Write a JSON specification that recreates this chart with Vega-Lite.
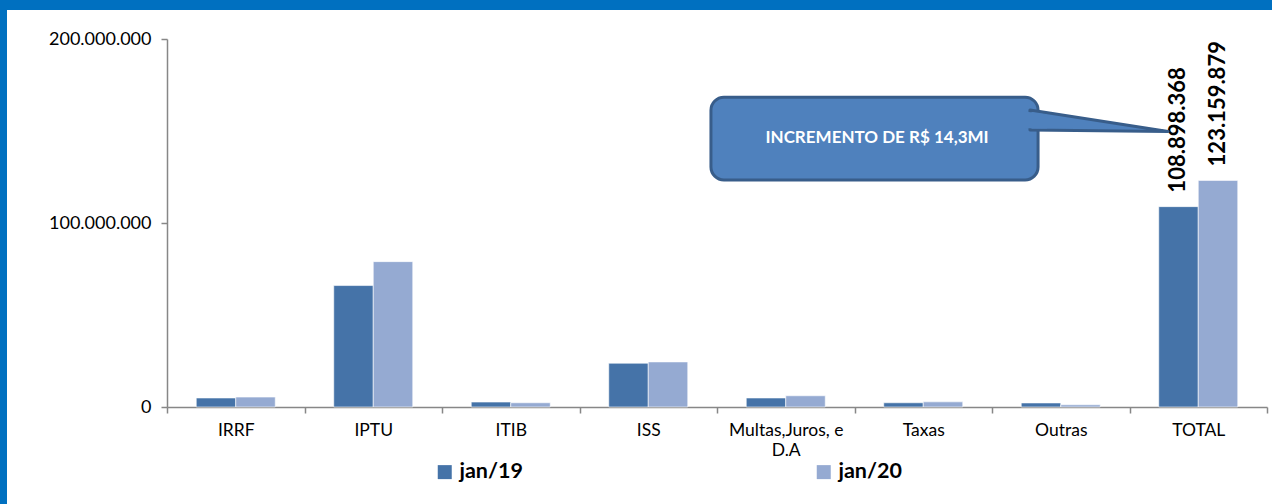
{
  "$schema": "https://vega.github.io/schema/vega-lite/v6.json",
  "width": 1265,
  "height": 494,
  "autosize": {"type": "none"},
  "padding": {"left": 7, "top": 10, "right": 0, "bottom": 0},
  "background": "#0070C0",
  "view": {"fill": "white", "stroke": null},
  "config": {
    "font": "Lato",
    "locale": {"number": {"decimal": ",", "thousands": ".", "grouping": [3], "currency": ["R$ ", ""]}}
  },
  "datasets": {
    "receitas": [
      {"cat": "IRRF", "serie": "jan/19", "valor": 4900000},
      {"cat": "IRRF", "serie": "jan/20", "valor": 5400000},
      {"cat": "IPTU", "serie": "jan/19", "valor": 66000000},
      {"cat": "IPTU", "serie": "jan/20", "valor": 79000000},
      {"cat": "ITIB", "serie": "jan/19", "valor": 2700000},
      {"cat": "ITIB", "serie": "jan/20", "valor": 2300000},
      {"cat": "ISS", "serie": "jan/19", "valor": 23800000},
      {"cat": "ISS", "serie": "jan/20", "valor": 24500000},
      {"cat": "Multas,Juros, e D.A", "serie": "jan/19", "valor": 4900000},
      {"cat": "Multas,Juros, e D.A", "serie": "jan/20", "valor": 6100000},
      {"cat": "Taxas", "serie": "jan/19", "valor": 2300000},
      {"cat": "Taxas", "serie": "jan/20", "valor": 2800000},
      {"cat": "Outras", "serie": "jan/19", "valor": 2200000},
      {"cat": "Outras", "serie": "jan/20", "valor": 1200000},
      {"cat": "TOTAL", "serie": "jan/19", "valor": 108898368},
      {"cat": "TOTAL", "serie": "jan/20", "valor": 123159879}
    ],
    "callout": [
      {"u0": 3.956, "u1": 6.335, "ya": 168400000, "yb": 123400000, "ut": 5.164, "yt": 146200000, "txt": "INCREMENTO DE R$ 14,3MI"}
    ],
    "pointer": [
      {"u": 6.276, "top": 161400000, "bot": 150500000},
      {"u": 7.28, "top": 149700000, "bot": 149700000}
    ],
    "cover": [
      {"u": 6.24, "top": 160600000, "bot": 151500000},
      {"u": 6.40, "top": 159000000, "bot": 151400000}
    ]
  },
  "layer": [
    {
      "data": {"name": "receitas"},
      "mark": {"type": "bar", "stroke": "white", "strokeWidth": 0.6},
      "encoding": {
        "x": {
          "field": "cat", "type": "nominal", "sort": null,
          "scale": {"domain": ["IRRF", "IPTU", "ITIB", "ISS", "Multas,Juros, e D.A", "Taxas", "Outras", "TOTAL"], "range": [160, 1260], "paddingInner": 0, "paddingOuter": 0},
          "axis": {
            "orient": "bottom", "offset": -97, "title": null, "labelAngle": 0,
            "tickBand": "extent", "tickSize": 6, "tickWidth": 1.5, "tickColor": "#878787",
            "domainColor": "#878787", "domainWidth": 1.5,
            "labelFontSize": 17.5, "labelColor": "black", "labelPadding": 8, "labelLineHeight": 20,
            "labelExpr": "datum.label == 'Multas,Juros, e D.A' ? ['Multas,Juros, e', 'D.A'] : datum.label"
          }
        },
        "xOffset": {"field": "serie", "type": "nominal", "scale": {"paddingInner": 0, "paddingOuter": 0.74}},
        "y": {
          "field": "valor", "type": "quantitative",
          "scale": {"domain": [0, 200000000], "range": [397, 29], "nice": false},
          "axis": {
            "orient": "left", "offset": -160, "title": null, "grid": false,
            "values": [0, 100000000, 200000000], "format": ",.0f",
            "tickSize": 6, "tickWidth": 1.5, "tickColor": "#878787",
            "domainColor": "#878787", "domainWidth": 1.5,
            "labelFontSize": 18, "labelColor": "black", "labelPadding": 10
          }
        },
        "color": {
          "field": "serie", "type": "nominal",
          "scale": {"domain": ["jan/19", "jan/20"], "range": ["#4573A8", "#95AAD2"]},
          "legend": {
            "title": null, "orient": "none", "legendX": 427, "legendY": 451, "direction": "horizontal",
            "symbolType": "square", "symbolSize": 196, "symbolStrokeWidth": 0,
            "labelFontSize": 21.5, "labelFontWeight": "bold", "labelColor": "black",
            "labelOffset": 4, "columnPadding": 290
          }
        }
      }
    },
    {
      "data": {"name": "receitas"},
      "transform": [{"filter": "datum.cat == 'TOTAL'"}],
      "mark": {"type": "text", "angle": 270, "align": "left", "baseline": "middle", "dx": 14, "fontSize": 22, "fontWeight": "bold", "color": "black"},
      "encoding": {
        "x": {
          "field": "cat", "type": "nominal", "sort": null,
          "scale": {"domain": ["IRRF", "IPTU", "ITIB", "ISS", "Multas,Juros, e D.A", "Taxas", "Outras", "TOTAL"], "range": [160, 1260], "paddingInner": 0, "paddingOuter": 0},
          "axis": null
        },
        "xOffset": {"field": "serie", "type": "nominal"},
        "y": {"field": "valor", "type": "quantitative"},
        "text": {"field": "valor", "type": "quantitative", "format": ",.0f"}
      }
    },
    {
      "data": {"name": "callout"},
      "mark": {"type": "rect", "cornerRadius": 13, "fill": "#4F81BD", "stroke": "#385D8A", "strokeWidth": 3},
      "encoding": {
        "x": {"field": "u0", "type": "quantitative", "scale": {"domain": [0, 8], "range": [160, 1260], "nice": false, "zero": false}, "axis": null},
        "x2": {"field": "u1"},
        "y": {"field": "ya", "type": "quantitative"},
        "y2": {"field": "yb"}
      }
    },
    {
      "data": {"name": "pointer"},
      "mark": {"type": "area", "fill": "#4F81BD", "stroke": "#385D8A", "strokeWidth": 3, "strokeJoin": "round"},
      "encoding": {
        "x": {"field": "u", "type": "quantitative", "scale": {"domain": [0, 8], "range": [160, 1260], "nice": false, "zero": false}, "axis": null},
        "y": {"field": "top", "type": "quantitative"},
        "y2": {"field": "bot"}
      }
    },
    {
      "data": {"name": "cover"},
      "mark": {"type": "area", "fill": "#4F81BD", "stroke": null},
      "encoding": {
        "x": {"field": "u", "type": "quantitative", "scale": {"domain": [0, 8], "range": [160, 1260], "nice": false, "zero": false}, "axis": null},
        "y": {"field": "top", "type": "quantitative"},
        "y2": {"field": "bot"}
      }
    },
    {
      "data": {"name": "callout"},
      "mark": {"type": "text", "align": "center", "baseline": "middle", "fontSize": 17, "fontWeight": "bold", "color": "white"},
      "encoding": {
        "x": {"field": "ut", "type": "quantitative", "scale": {"domain": [0, 8], "range": [160, 1260], "nice": false, "zero": false}, "axis": null},
        "y": {"field": "yt", "type": "quantitative"},
        "text": {"field": "txt"}
      }
    }
  ],
  "resolve": {"scale": {"x": "independent"}}
}
